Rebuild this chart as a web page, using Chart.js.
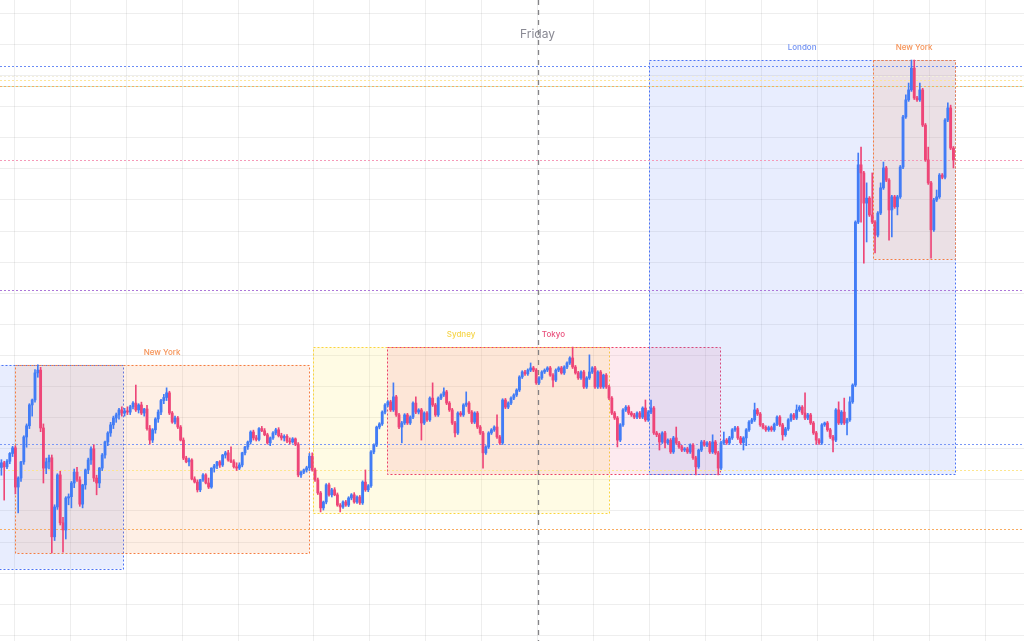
<!DOCTYPE html>
<html>
<head>
<meta charset="utf-8">
<script src="https://cdn.jsdelivr.net/npm/chart.js@4.4.1/dist/chart.umd.min.js"></script>
<style>
  html, body { margin: 0; padding: 0; background: #fff; }
  #wrap { width: 1024px; height: 641px; }
</style>
</head>
<body>
<div id="wrap"><canvas id="chart"></canvas></div>
<script>
// 3 minute candles, [open, high, low, close]
const candlesA = [
  [54.0,56.5,51.5,55.5],[55.5,56.0,43.5,54.2],[54.2,56.5,53.6,56.0],[56.0,58.8,55.2,58.5],[58.5,60.8,57.5,60.3],
  [60.3,61.0,45.5,47.7],[47.7,51.0,39.4,50.6],[50.6,56.0,49.5,55.8],[55.8,64.2,55.0,63.8],[63.8,68.0,60.5,67.4],
  [67.4,74.5,66.5,74.1],[74.1,76.0,70.5,75.7],[75.7,85.5,75.0,84.4],[84.4,87.0,83.0,85.3],[85.3,86.2,65.5,66.7],
  [66.7,68.0,49.0,53.8],[53.8,57.0,52.0,55.8],[55.8,58.0,53.5,57.1],[57.1,58.0,26.5,31.7],[31.7,42.0,30.5,41.3],
  [41.3,52.0,40.5,51.6],[51.6,52.8,35.5,36.2],[36.2,38.0,26.8,33.9],[33.9,44.6,31.0,44.2],[44.2,45.5,42.0,44.6],
  [44.6,49.5,41.0,49.0],[49.0,53.5,47.5,52.5],[52.5,54.0,49.5,50.0],[50.0,51.0,41.5,42.2],[42.2,48.6,41.0,48.4],
  [48.4,53.5,47.0,53.2],[53.2,57.0,52.0,56.4],[56.4,60.6,55.0,60.0],[60.0,61.3,49.5,50.6],[50.6,51.5,45.2,49.0],
  [49.0,54.0,47.5,53.8],[53.8,58.5,53.0,58.0],[58.0,62.5,57.0,62.2],[62.2,65.5,61.0,65.1],[65.1,68.5,64.0,67.7],
  [67.7,70.5,66.5,69.9],[69.9,71.5,68.5,70.9],[70.9,73.0,69.5,72.5],[72.5,73.5,70.5,71.5]
];
const candlesB = [
  [71.5,73.0,70.5,72.2],[72.2,73.5,71.0,71.8],[71.8,74.0,71.0,73.5],[73.5,75.2,72.8,74.7],[74.7,80.5,72.0,72.5],
  [72.5,74.5,71.5,74.1],[74.1,75.0,71.0,71.5],[71.5,73.0,70.5,72.8],[72.8,74.0,66.0,66.5],[66.5,67.5,61.5,62.8],
  [62.8,66.5,62.0,66.1],[66.1,70.0,65.0,69.6],[69.6,72.5,68.5,71.8],[71.8,75.9,71.0,75.5],[75.5,77.5,74.5,76.5],
  [76.5,79.6,75.5,78.0],[78.0,78.5,71.0,71.5],[71.5,72.0,68.2,68.6],[68.6,70.5,68.0,69.9],[69.9,70.4,66.5,67.0],
  [67.0,67.5,62.5,62.8],[62.8,63.5,56.5,57.0],[57.0,57.6,55.5,55.8],[55.8,57.0,54.5,56.4],[56.4,56.8,50.0,50.3],
  [50.3,51.0,49.0,49.3],[49.3,50.0,46.1,46.8],[46.8,50.2,46.2,50.0],[50.0,52.0,49.5,51.6],[51.6,52.0,48.7,49.0],
  [49.0,50.6,47.2,47.7],[47.7,53.9,47.3,53.8],[53.8,55.0,52.5,54.5],[54.5,56.0,53.6,55.8],[55.8,56.2,54.0,54.8],
  [54.8,58.2,54.3,58.0],[58.0,59.2,57.0,58.7],[58.7,59.5,56.0,56.4],[56.4,60.6,55.5,55.8],[55.8,56.5,53.8,54.2],
  [54.2,55.5,53.0,53.8],[53.8,55.5,53.3,54.8],[54.8,58.9,54.2,58.7],[58.7,60.8,58.0,60.6],[60.6,62.5,59.8,62.2],
  [62.2,65.8,61.5,65.4],[65.4,66.0,62.8,63.5],[63.5,64.3,62.5,63.0],[63.0,66.8,62.5,66.5],[66.5,67.2,65.5,65.8],
  [65.8,66.5,64.2,64.5],[64.5,65.0,61.5,61.9],[61.9,63.8,61.0,63.5],[63.5,65.5,63.0,65.1],[65.1,66.6,64.5,66.1],
  [66.1,66.8,63.8,64.2],[64.2,65.0,62.8,63.5],[63.5,64.5,62.5,64.0],[64.0,64.6,62.0,62.5],[62.5,63.5,61.5,62.2],
  [62.2,63.6,61.8,63.2],[63.2,63.5,61.0,61.5],[61.5,62.0,51.0,51.6],[51.6,52.8,50.8,52.5],[52.5,53.5,52.0,53.2],
  [53.2,54.4,52.5,53.9],[53.9,58.5,53.0,57.6],[57.6,58.7,52.8,53.2]
];
const candlesC = [
  [53.2,53.8,49.5,50.0],[50.0,50.6,45.3,45.8],[45.8,46.3,39.7,41.0],[41.0,43.2,40.3,42.9],[42.9,48.8,42.3,48.4],
  [48.4,49.0,44.8,45.2],[45.2,47.3,44.5,46.8],[46.8,47.5,44.9,45.2],[45.2,45.8,41.5,41.9],[41.9,42.4,39.7,41.3],
  [41.3,43.3,40.8,42.9],[42.9,43.4,41.5,41.9],[41.9,44.6,41.4,44.2],[44.2,45.6,43.6,45.2],[45.2,45.9,42.5,42.9],
  [42.9,44.9,42.4,44.5],[44.5,45.0,42.1,42.6],[42.6,49.7,42.1,49.3],[49.3,53.2,46.3,46.8],[46.8,48.5,46.2,48.1],
  [48.1,59.4,47.6,59.0],[59.0,61.6,58.4,61.2],[61.2,67.3,60.7,67.0],[67.0,68.4,66.4,68.0],[68.0,72.2,67.5,71.8],
  [71.8,74.5,71.2,74.1],[74.1,75.5,73.5,75.1],[75.1,75.6,72.0,72.5],[72.5,81.2,72.0,76.7],[76.7,77.2,70.4,70.9],
  [70.9,71.4,66.5,67.0],[67.0,68.8,61.9,68.3],[68.3,71.3,67.8,70.9],[70.9,71.4,67.8,68.3],[68.3,70.6,67.8,70.2],
  [70.2,75.1,69.7,74.7],[74.7,76.7,71.3,71.8],[71.8,72.9,71.2,72.5],[72.5,73.0,62.8,68.3],[68.3,71.9,67.8,71.5],
  [71.5,72.0,68.8,69.3],[69.3,76.7,68.8,76.3],[76.3,81.2,73.6,74.1],[74.1,74.6,70.4,70.9],[70.9,76.7,70.4,76.3],
  [76.3,77.7,75.8,77.3],[77.3,79.6,76.8,78.3],[78.3,78.8,74.2,74.7],[74.7,75.2,72.0,72.5],[72.5,73.0,67.8,68.3],
  [68.3,68.8,63.8,65.1],[65.1,71.9,64.6,71.5],[71.5,72.0,70.4,70.9],[70.9,74.5,70.4,74.1],[74.1,78.3,73.6,74.7],
  [74.7,75.2,71.3,71.8],[71.8,72.3,68.1,68.6],[68.6,71.9,68.1,71.5],[71.5,72.0,66.5,67.0],[67.0,67.5,64.6,65.1],
  [65.1,65.6,53.8,58.7],[58.7,61.0,58.2,60.6],[60.6,65.5,60.1,65.1],[65.1,66.5,64.6,66.1],[66.1,67.4,65.6,67.0],
  [67.0,70.9,63.3,63.8],[63.8,64.3,61.4,61.9],[61.9,76.1,61.4,75.7],[75.7,76.2,72.9,73.4],[73.4,75.1,72.9,74.7],
  [74.7,76.7,74.2,76.3],[76.3,77.7,75.8,77.3],[77.3,79.3,76.8,78.9],[78.9,83.5,78.4,83.1],[83.1,85.1,82.6,84.7],
  [84.7,85.2,83.6,84.1],[84.1,85.7,83.6,85.3],[85.3,87.6,84.8,86.0],[86.0,86.5,84.8,85.3],[85.3,85.8,80.7,81.2],
  [81.2,83.2,80.7,82.8],[82.8,85.1,82.3,84.7],[84.7,85.7,84.2,85.3],[85.3,86.4,84.8,86.0],[86.0,86.5,83.3,83.7],
  [83.7,84.2,79.9,82.1],[82.1,85.7,81.6,85.3],[85.3,86.4,84.8,86.0],[86.0,86.5,84.0,84.4],[84.4,86.7,83.9,86.3],
  [86.3,88.0,85.8,87.6],[87.6,89.6,87.1,89.2],[89.2,92.7,85.8,86.3],[86.3,86.8,84.0,84.4],[84.4,84.9,82.3,82.8],
  [82.8,85.1,82.3,84.7],[84.7,85.2,79.4,79.9],[79.9,83.2,79.4,82.8],[82.8,90.2,82.3,84.7],[84.7,86.4,84.2,86.0],
  [86.0,86.5,79.4,79.9],[79.9,85.1,79.4,84.7],[84.7,85.2,79.4,79.9],[79.9,84.0,79.4,83.7],[83.7,84.2,79.4,79.9],
  [79.9,80.4,75.8,76.3],[76.3,76.8,71.0,71.5],[71.5,72.0,69.4,69.9],[69.9,70.4,60.6,62.8],[62.8,68.1,62.3,67.7],
  [67.7,72.9,67.2,72.5],[72.5,73.9,72.0,73.4],[73.4,73.9,71.0,71.5],[71.5,72.0,70.4,70.9],[70.9,71.4,69.7,70.2],
  [70.2,71.9,69.7,71.5],[71.5,72.0,69.7,70.2],[70.2,73.5,69.7,73.1],[73.1,75.7,68.8,69.3],[69.3,72.3,68.8,71.8]
];
const candlesD = [
  [71.8,75.7,71.3,73.1],[73.1,73.6,64.6,65.1],[65.1,65.6,63.9,64.5],[64.5,65.0,59.6,62.2],[62.2,65.5,61.7,65.1],
  [65.1,65.6,60.3,61.9],[61.9,63.2,61.4,62.8],[62.8,63.3,58.5,59.0],[59.0,64.0,58.5,63.5],[63.5,67.0,61.4,61.9],
  [61.9,62.4,60.1,60.6],[60.6,61.1,59.1,59.6],[59.6,60.4,59.1,60.0],[60.0,60.5,58.5,59.0],[59.0,61.6,58.5,61.2],
  [61.2,61.7,56.6,57.1],[57.1,57.6,51.6,54.2],[54.2,59.9,53.7,59.6],[59.6,62.7,59.1,62.2],[62.2,62.7,60.8,61.2],
  [61.2,62.3,60.7,61.9],[61.9,62.4,58.5,59.0],[59.0,64.5,58.5,62.2],[62.2,62.7,58.2,58.7],[58.7,59.2,51.6,53.8],
  [53.8,62.4,53.3,61.9],[61.9,65.4,61.4,62.8],[62.8,63.3,61.4,61.9],[61.9,64.0,61.4,63.5],[63.5,66.5,63.0,66.1],
  [66.1,67.2,65.6,66.7],[66.7,67.2,63.0,63.5],[63.5,64.0,61.5,62.0],[62.0,63.9,59.6,63.5],[63.5,66.5,61.0,66.1],
  [66.1,69.1,65.6,68.6],[68.6,69.8,68.1,69.3],[69.3,74.7,68.8,72.5],[72.5,73.0,70.7,71.2],[71.2,71.7,67.2,67.7],
  [67.7,68.2,66.4,66.9],[66.9,67.4,65.6,66.1],[66.1,67.3,65.6,66.8],[66.8,67.3,65.6,66.1],[66.1,68.3,65.6,67.9],
  [67.9,70.6,67.4,70.2],[70.2,70.7,67.2,67.7],[67.7,68.2,62.8,64.5],[64.5,66.9,64.0,66.4],[66.4,69.7,65.9,69.3],
  [69.3,71.3,68.8,70.9],[70.9,71.4,69.4,69.9],[69.9,74.1,69.4,72.5],[72.5,73.9,72.0,73.4],[73.4,73.9,71.0,71.5],
  [71.5,78.0,69.4,69.9],[69.9,71.4,69.4,70.9],[70.9,71.4,67.8,68.3],[68.3,68.8,64.6,65.1],[65.1,65.6,61.4,62.8],
  [62.8,63.3,61.4,61.9],[61.9,68.1,61.4,67.7],[67.7,68.6,67.2,68.3],[68.3,68.8,65.6,66.1],[66.1,66.6,63.3,63.8],
  [63.8,64.3,59.0,62.8],[62.8,72.9,62.3,72.5],[72.5,75.1,67.8,68.3],[68.3,72.3,67.8,71.8],[71.8,76.3,67.8,68.3],
  [68.3,69.8,64.5,69.3],[69.3,76.7,68.8,75.1],[75.1,80.9,74.6,80.5]
];
const candlesE = [
  [80.5,133.3,80.0,132.9],[132.9,155.1,132.4,151.3],[151.3,157.0,132.9,148.7],[148.7,149.2,119.7,139.0],
  [139.0,145.5,126.5,140.6],[140.6,141.1,134.7,135.2],[135.2,148.7,132.4,132.9],[132.9,133.4,123.0,128.7],
  [128.7,136.3,128.1,135.8],[135.8,145.5,135.3,143.9],[143.9,152.2,143.4,150.3],[150.3,150.8,145.9,146.4],
  [146.4,146.9,127.1,136.8],[136.8,141.5,128.1,141.0],[141.0,141.5,137.3,137.8],[137.8,141.5,135.2,141.0],
  [141.0,151.1,140.5,150.6],[150.6,167.2,150.1,166.7],[166.7,173.8,166.2,172.2],[172.2,177.6,171.7,175.4],
  [175.4,185.0,174.9,182.4],[182.4,185.0,172.3,172.8],[172.8,173.3,171.7,172.2],[172.2,177.6,171.7,175.4],
  [175.4,175.9,163.6,164.1],[164.1,164.6,152.4,152.9],[152.9,157.0,145.0,145.5],[145.5,146.0,121.3,130.4],
  [130.4,140.5,129.9,140.0],[140.0,143.2,139.5,141.0],[141.0,148.5,140.5,148.0],[148.0,148.5,146.8,147.3],
  [147.3,166.2,146.8,165.7],[165.7,171.2,165.2,169.6],[169.6,170.5,156.2,156.7],[156.7,157.2,150.3,152.9]
];

// hour marks (candle index) and price grid
const hourTicks = [4.5, 24.5, 44.5, 64.5, 84.5, 111.6, 131.6, 151.6, 171.6, 191.6, 211.6, 231.6, 251.6, 271.6, 291.6, 311.6, 331.6, 351.6];
const priceTicks = [0, 10, 20, 30, 40, 50, 60, 70, 80, 90, 100, 110, 120, 130, 140, 150, 160, 170, 180, 190, 200];

// key levels
const levels = [
  { price: 183.1, color: '#6a8cf6' },
  { price: 179.9, color: '#f3efdc' },
  { price: 178.6, color: '#fde59a' },
  { price: 176.6, color: '#f7ab62' },
  { price: 176.6, color: '#c6ead0', shift: 2 },
  { price: 152.9, color: '#f59ab8' },
  { price: 111.1, color: '#ad78d8' },
  { price: 61.5, color: '#7a98f6' },
  { price: 53.2, color: '#fde68f' },
  { price: 34.2, color: '#f8ac62' }
];

// trading sessions: candle index range and high / low
const sessions = [
  { name: 'London', start: -60, end: 43.4, high: 87.0, low: 21.4, fill: 'rgba(90,130,245,0.14)', border: 'rgba(75,115,245,1)', text: '#6f90f2' },
  { name: 'New York', start: 4.9, end: 109.9, high: 87.0, low: 26.5, fill: 'rgba(250,140,70,0.14)', border: 'rgba(245,125,65,1)', text: '#f59256' },
  { name: 'Sydney', start: 111.3, end: 217.0, high: 92.7, low: 39.4, fill: 'rgba(255,230,90,0.16)', border: 'rgba(250,212,60,1)', text: '#f6d54a' },
  { name: 'Tokyo', start: 137.7, end: 256.6, high: 92.7, low: 51.9, fill: 'rgba(240,80,120,0.12)', border: 'rgba(235,65,105,1)', text: '#e9507c' },
  { name: 'London', start: 231.3, end: 340.6, high: 185.0, low: 51.9, fill: 'rgba(90,130,245,0.14)', border: 'rgba(75,115,245,1)', text: '#6f90f2' },
  { name: 'New York', start: 311.3, end: 340.6, high: 185.0, low: 121.0, fill: 'rgba(250,140,70,0.14)', border: 'rgba(245,125,65,1)', text: '#f59256' }
];

const dayMarkers = [{ label: 'Friday', at: 191.6 }];

const candles = [].concat(candlesA, candlesB, candlesC, candlesD, candlesE);
const UP = 'rgb(66,124,246)';
const DOWN = 'rgb(238,70,120)';
const candleColor = ctx => {
  const c = candles[ctx.dataIndex];
  return c && c[3] >= c[0] ? UP : DOWN;
};

const sessionsPlugin = {
  id: 'sessions',
  beforeDatasetsDraw(chart) {
    const { ctx, chartArea, scales: { x, y } } = chart;
    ctx.save();
    sessions.forEach(s => {
      const l = x.getPixelForValue(s.start), r = x.getPixelForValue(s.end);
      const t = y.getPixelForValue(s.high), b = y.getPixelForValue(s.low);
      ctx.fillStyle = s.fill;
      ctx.fillRect(l, t, r - l, b - t);
      ctx.setLineDash([2, 2]);
      ctx.lineWidth = 1;
      ctx.strokeStyle = s.border;
      ctx.strokeRect(Math.round(l) + 0.5, Math.round(t) + 0.5, Math.round(r - l), Math.round(b - t));
      ctx.setLineDash([]);
      ctx.font = '500 8px Inter, "Noto Sans", sans-serif';
      ctx.fillStyle = s.text;
      ctx.textAlign = 'center';
      ctx.textBaseline = 'middle';
      ctx.fillText(s.name, (l + r) / 2, t - 12);
    });

    levels.forEach(lv => {
      const py = Math.round(y.getPixelForValue(lv.price)) + 0.5;
      ctx.beginPath();
      ctx.setLineDash([2, 2]);
      ctx.lineDashOffset = lv.shift || 0;
      ctx.strokeStyle = lv.color;
      ctx.lineWidth = 1;
      ctx.moveTo(chartArea.left, py);
      ctx.lineTo(chartArea.right, py);
      ctx.stroke();
    });
    ctx.lineDashOffset = 0;

    dayMarkers.forEach(d => {
      const px = Math.round(x.getPixelForValue(d.at)) + 0.5;
      ctx.beginPath();
      ctx.setLineDash([5, 5]);
      ctx.strokeStyle = 'rgba(110,110,115,0.85)';
      ctx.lineWidth = 1.3;
      ctx.moveTo(px, chartArea.top);
      ctx.lineTo(px, chartArea.bottom);
      ctx.stroke();
      ctx.setLineDash([]);
      ctx.font = '12px Inter, "Noto Sans", sans-serif';
      ctx.fillStyle = '#8a8a94';
      ctx.textAlign = 'center';
      ctx.textBaseline = 'middle';
      ctx.fillText(d.label, px - 1, 34);
    });
    ctx.restore();
  }
};

const gridColor = 'rgba(0,0,0,0.065)';

new Chart(document.getElementById('chart'), {
  type: 'bar',
  data: {
    datasets: [{
      label: 'wicks',
      data: candles.map((c, i) => ({ x: i, y: [c[2], c[1]] })),
      backgroundColor: candleColor,
      barThickness: 1,
      grouped: false,
      order: 2
    }, {
      label: 'bodies',
      data: candles.map((c, i) => ({ x: i, y: [c[0], c[3]] })),
      backgroundColor: candleColor,
      barThickness: 2.2,
      minBarLength: 1,
      grouped: false,
      order: 1
    }]
  },
  options: {
    responsive: true,
    maintainAspectRatio: false,
    animation: false,
    layout: { padding: 0 },
    plugins: {
      legend: { display: false },
      tooltip: { enabled: false }
    },
    scales: {
      x: {
        type: 'linear',
        min: -0.5,
        max: 365.2,
        offset: false,
        grid: { offset: false, color: gridColor, drawTicks: false },
        border: { display: false },
        ticks: { display: false },
        afterBuildTicks: s => { s.ticks = hourTicks.map(v => ({ value: v })); }
      },
      y: {
        min: -1.8,
        max: 204.3,
        beginAtZero: false,
        grid: { color: gridColor, drawTicks: false },
        border: { display: false },
        ticks: { display: false },
        afterBuildTicks: s => { s.ticks = priceTicks.map(v => ({ value: v })); }
      }
    }
  },
  plugins: [sessionsPlugin]
});
</script>
</body>
</html>
